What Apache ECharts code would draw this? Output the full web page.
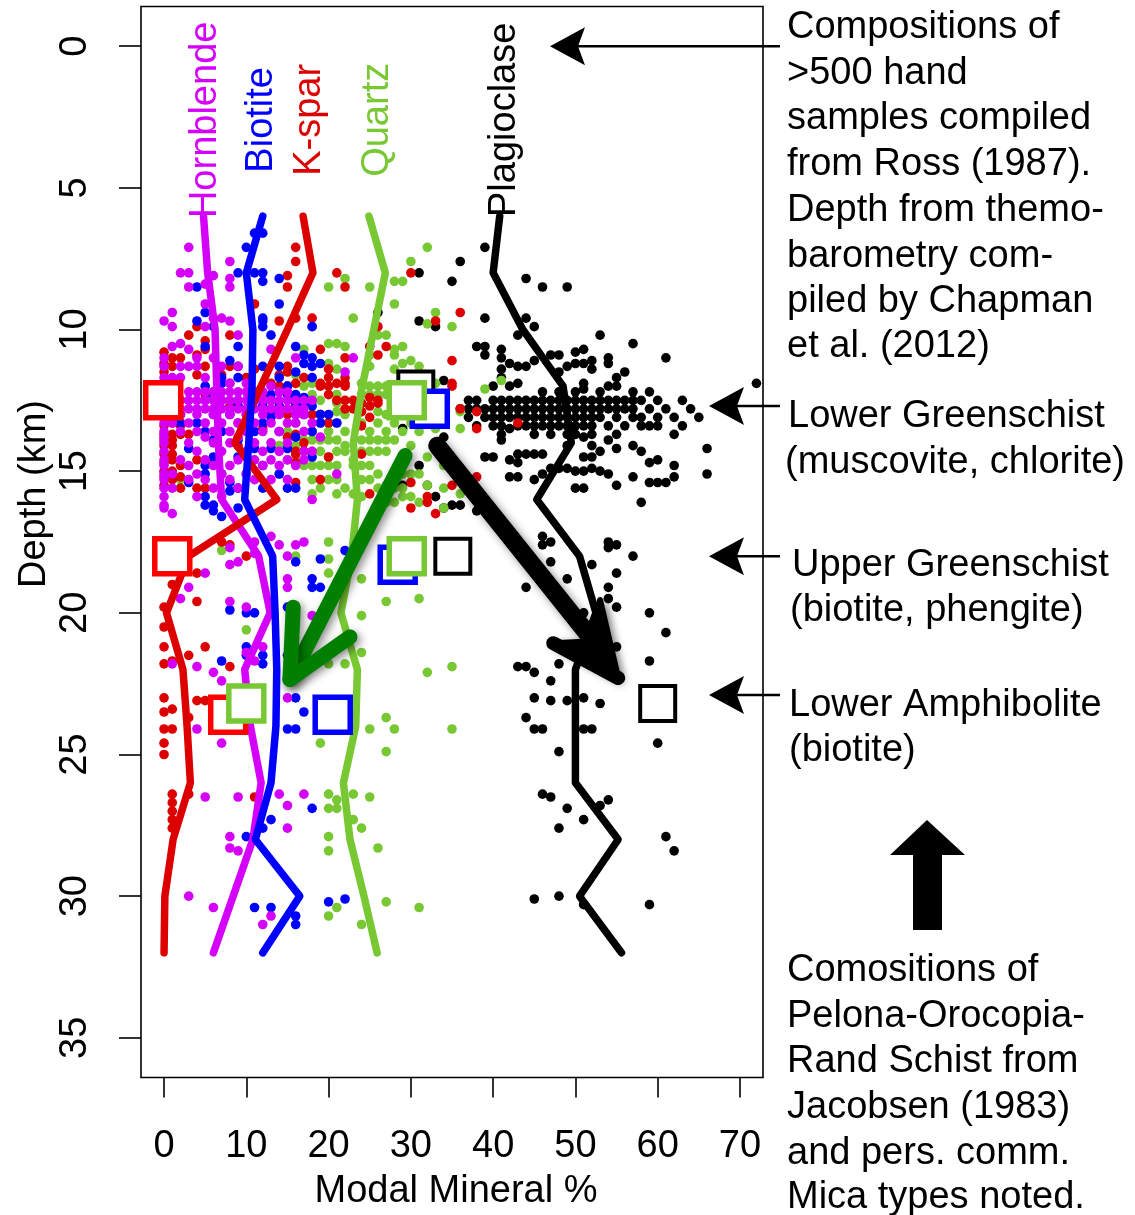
<!DOCTYPE html>
<html><head><meta charset="utf-8">
<script src="https://cdn.jsdelivr.net/npm/echarts@6/dist/echarts.min.js"></script>
<style>html,body{margin:0;padding:0;background:#fff}#c{width:1135px;height:1215px}</style>
</head><body><div id="c"></div>
<script>
// ---------------- DATA ----------------
const xTicks = [0, 10, 20, 30, 40, 50, 60, 70];
const yTicks = [0, 5, 10, 15, 20, 25, 30, 35];
const depthBins = [6, 8, 10, 12, 14, 16, 18, 20, 22, 24, 26, 28, 30, 32];
const hornblendeMean = [4.8, 5.3, 6.2, 6.4, 6.6, 7.0, 11.5, 12.9, 9.8, 10.5, 11.8, 10.8, 8.4, 6.0];
const biotiteMean    = [12.0, 10.0, 10.8, 10.7, 10.3, 9.8, 13.2, 13.5, 13.7, 13.6, 13.0, 11.1, 16.5, 12.0];
const ksparMean      = [16.9, 18.1, 15.0, 11.8, 8.6, 13.7, 3.0, 0.3, 2.3, 2.8, 3.2, 1.1, 0.1, 0.0];
const quartzMean     = [24.9, 26.9, 25.5, 24.1, 23.0, 23.5, 22.8, 21.5, 23.5, 23.3, 21.8, 22.6, 24.3, 25.9];
const plagMean       = [40.8, 40.0, 43.6, 48.5, 49.5, 45.3, 50.5, 52.5, 50.0, 50.0, 50.0, 55.2, 50.5, 55.6];

// schist compositions [modal %, depth km]
const schistKspar  = [[-0.1, 12.5], [1.0, 18.0], [7.8, 23.6]];
const schistQuartz = [[29.5, 12.5], [29.5, 18.0], [10.0, 23.2]];
const schistBiot   = [[32.3, 12.8], [28.4, 18.3], [20.5, 23.6]];
const schistPlag   = [[30.6, 12.1], [35.1, 18.0], [60.0, 23.2]];

// hand samples: rows of [depth, [modal % values]]
const plagRows = [
[7.1,[39]],[7.6,[36]],[8.0,[31]],[8.2,[44]],[8.3,[35]],[8.5,[46,49]],[9.4,[26]],[9.6,[39,44]],[9.7,[31]],
[9.9,[33,45]],[10.2,[43,53]],[10.5,[57]],[10.6,[38,39]],[10.7,[41,51]],[10.8,[50]],[10.9,[39,47,48]],
[11.0,[41,54,61]],[11.1,[45,52]],[11.2,[42,50,51,54]],[11.3,[43,44,49]],[11.4,[41,52]],[11.5,[48,56]],
[11.7,[41,55]],[11.8,[34]],[11.9,[43,51,72]],[12.0,[40,42,54,55]],[12.1,[51]],[12.2,[46,48,50,53,57,59]],
[12.5,[37,38,40,41,42,43,44,45,46,47,48,49,50,51,52,53,54,55,56,57,58,60,63]],
[12.8,[36,37,38,39,40,41,42,43,44,45,46,47,48,49,50,51,52,53,54,55,56,57,59,61,64]],
[13.1,[37,39,40,41,42,43,44,45,46,47,48,49,50,51,52,53,55,57,58,60,62,65]],
[13.4,[38,40,41,43,44,45,46,47,48,49,50,51,52,54,56,58,59,60,63]],
[13.5,[29,42]],[13.7,[41,45,47,49,50,52,55,62]],[13.8,[34,51]],[13.9,[41,54]],[14.1,[49,52,57]],
[14.2,[55,66]],[14.3,[53,58]],[14.4,[43,44,45,46]],[14.5,[39,40,51,52]],[14.6,[42,60]],[14.7,[43,59]],
[14.8,[31,62]],[14.9,[47,48,49,52]],[15.0,[50,51,53]],[15.1,[46,54,66]],[15.2,[42,43,57,62]],[15.3,[45]],
[15.4,[59,60,61]],[15.5,[29,32,55]],[15.6,[50,51]],[15.9,[33]],[16.1,[58]],[16.2,[35,36]],[16.3,[34]],
[16.4,[38]],[17.3,[46]],[17.5,[47,54]],[17.6,[46,55]],[17.7,[54]],[18.0,[57]],[18.2,[47]],[18.3,[52]],
[18.6,[55]],[18.8,[49]],[19.1,[44,54]],[19.5,[54]],[19.8,[55]],[20.0,[51,59]],[20.7,[61]],[21.2,[55]],
[21.7,[59]],[21.8,[48]],[21.9,[43,44]],[22.1,[45]],[22.4,[47]],[23.0,[45,51]],[23.1,[47,49]],[23.2,[53]],
[23.7,[44]],[24.1,[45,46,51,52]],[24.6,[60]],[24.9,[48]],[26.4,[46]],[26.5,[47]],[26.6,[54]],[26.8,[53]],
[26.9,[49]],[27.3,[51]],[27.6,[48]],[27.9,[61]],[28.4,[62]],[30.0,[48]],[30.1,[45]],[30.3,[51,59]]
];
const quartzRows = [
[7.1,[32]],[7.6,[30]],[8.2,[22]],[8.3,[28,29]],[8.5,[20,25]],[9.1,[28]],[9.4,[33]],[9.6,[23]],[9.8,[32]],
[9.9,[18,35]],[10.2,[26,27]],[10.5,[20,21]],[10.6,[22,29]],[10.7,[17,28]],[10.9,[25,28]],[11.1,[30]],
[11.2,[20,29]],[11.3,[25,31]],[11.4,[21,28]],[11.6,[16,30]],[11.8,[41]],[11.9,[18,24,33]],[12.0,[17,25,26,27]],
[12.1,[39]],[12.3,[18,21,24,25,26,27]],[12.5,[13,16,19,31]],[12.6,[21,24,34]],[12.9,[14,21,24,26,36]],
[13.0,[17,19,22,27,29]],[13.3,[16,19,20,21,24,26,28,30]],[13.5,[33,36]],[13.6,[15,18,20,22,25,27,29,31]],
[13.9,[17,18,19,20,21,24,25,26,27,28]],[14.1,[14,16,22,30]],[14.3,[17,18,19,21,22,24,25,26,27]],[14.5,[20,32]],
[14.6,[15,16,23,29]],[14.8,[17,18,19,20,21,23,24,25,34]],[15.1,[14,26,28,29,30,31]],[15.3,[2,18,20,21,24,25]],
[15.5,[27,32]],[15.6,[19,22,26,28,29,34]],[15.8,[18,21,23,36]],[15.9,[24,29,30]],[16.1,[26,27,28,31]],
[16.3,[34]],[17.5,[20]],[17.8,[7]],[18.0,[16]],[18.1,[20]],[18.6,[20]],[18.8,[24]],[19.5,[31]],[19.6,[27]],
[20.1,[24]],[20.6,[10]],[21.4,[24]],[21.8,[20,22]],[21.9,[35]],[22.1,[32]],[23.7,[27]],[24.1,[25,28,35]],
[24.6,[19]],[24.9,[27]],[26.4,[20,23]],[26.5,[25]],[26.6,[21]],[26.9,[20,21]],[27.3,[23]],[27.6,[24]],
[27.9,[20]],[28.3,[26]],[28.4,[20]],[30.2,[27]],[30.4,[21,31]],[30.7,[20]],[31.0,[24]]
];
const ksparRows = [
[7.1,[16]],[7.6,[16]],[8.0,[21,30]],[8.1,[15]],[8.5,[15,22]],[9.1,[11]],[9.4,[36]],[9.6,[16,18]],[9.7,[14,33]],
[9.9,[4,26]],[10.2,[3,8]],[10.4,[5]],[10.6,[25,27]],[10.7,[5,19]],[10.8,[0]],[10.9,[4,26]],[11.0,[1,2,22]],
[11.1,[35]],[11.2,[0]],[11.3,[1,5,8,15]],[11.4,[11,20]],[11.5,[0,15]],[11.6,[4,7,14]],[11.7,[10,17,20,22]],
[11.9,[8,13,16,19,21,22,35]],[12.0,[14,15,19,20,22,35]],[12.2,[6]],[12.3,[5,12,20]],[12.4,[0,1,25]],
[12.5,[0,1,2,21,22,23,26]],[12.6,[24,26]],[12.7,[8,16,25]],[12.8,[1,22,23,36]],[12.9,[24,38]],
[13.0,[0,10,15,18,19]],[13.1,[1,25]],[13.3,[1,9,20,43]],[13.4,[0,2,24]],[13.5,[12,38]],[13.7,[0,1,2,3,16]],
[13.8,[15]],[13.9,[0,1]],[14.0,[17]],[14.1,[0,1,9]],[14.3,[16,17]],[14.4,[0,1,16,24]],[14.5,[20]],
[14.6,[1,4]],[14.7,[0,6,16]],[14.8,[2]],[15.0,[0,1]],[15.2,[0,2,38]],[15.3,[1,19]],[15.4,[16,30]],
[15.5,[0,35]],[15.6,[2,4,5]],[15.8,[25]],[15.9,[32]],[16.1,[32]],[16.3,[30]],[16.5,[33]],[17.5,[7]],
[17.6,[8]],[18.0,[10]],[18.6,[4]],[19.0,[1]],[19.6,[4]],[19.8,[0]],[20.5,[0]],[21.2,[0,5]],[21.5,[3]],
[21.7,[1]],[21.8,[0]],[21.9,[8]],[23.0,[0]],[23.1,[4,5]],[23.4,[1]],[23.5,[0]],[23.7,[3]],[24.1,[0,1]],
[24.6,[0]],[25.0,[0]],[26.4,[1,3]],[26.5,[11]],[26.7,[1]],[27.0,[1]],[27.3,[1]],[27.6,[1]]
];
const biotiteRows = [
[6.6,[11,12]],[7.1,[10]],[8.0,[9,11,12]],[8.2,[14]],[8.3,[12]],[8.5,[4]],[9.1,[14]],[9.4,[5]],[9.6,[12]],
[9.7,[4,12]],[9.9,[6,12,18]],[10.2,[13]],[10.6,[5,9,16]],[10.9,[17]],[11.0,[18]],[11.1,[8]],[11.2,[17,19]],
[11.3,[9,12,14,18]],[11.5,[16]],[11.7,[7,9,14,18]],[11.9,[7]],[12.0,[5,15]],[12.3,[6,13,15,16]],[12.4,[16,17]],
[12.5,[5,7,9,11,13,16,17]],[12.6,[16]],[12.7,[9,12,14,17,18]],[13.0,[2,6,8,13,16,17,19,20]],[13.1,[13]],
[13.3,[2,4,10,12,19,21]],[13.6,[5,7,11,14,18]],[13.8,[16]],[13.9,[6,9]],[14.2,[3,11,13,15]],[14.5,[6,9,18]],
[14.8,[5,12]],[15.1,[5,7,10,14]],[15.4,[3,8]],[15.6,[9,12,15,16]],[15.7,[8]],[15.9,[5]],[16.2,[5,6]],
[16.3,[9]],[16.4,[6]],[16.6,[7]],[17.8,[22]],[18.1,[19]],[18.2,[16]],[18.8,[18]],[19.1,[18,19]],[19.8,[15]],
[19.9,[8]],[20.0,[10,11]],[21.2,[10]],[21.5,[10,12,15]],[21.7,[7]],[21.8,[12]],[23.0,[16]],[23.5,[17]],
[24.1,[15,16]],[26.9,[18]],[27.3,[13]],[27.6,[12]],[27.9,[10]],[30.1,[22]],[30.2,[20]],[30.4,[11,13]],
[30.7,[16]],[31.0,[16]]
];
const hornblendeRows = [
[7.1,[3]],[7.6,[8]],[8.0,[2,3]],[8.1,[6]],[8.2,[8]],[8.4,[5]],[8.5,[3,8]],[9.1,[5]],[9.4,[1]],[9.6,[6,7]],
[9.7,[0,8]],[9.9,[1,5]],[10.2,[9]],[10.5,[2]],[10.6,[1]],[10.7,[3,13]],[11.0,[0,4,6,16,23]],
[11.3,[0,2,3,4,7,9]],[11.5,[22]],[11.7,[0,1,2,5]],[11.9,[8,10]],[12.0,[13]],
[12.2,[0,1,3,4,5,6,7,8,9,10,11,12,14,15]],
[12.5,[0,1,2,3,4,5,6,7,8,9,10,11,12,13,14,15,16,17,18]],
[12.8,[0,1,2,3,4,5,6,7,8,9,10,11,12,13,14,15,16,17]],
[13.0,[0,2,4,6,8,10,12,14,16,17]],[13.3,[0,1,3,5,7,9,11,13,15,16,18]],[13.6,[0,2,4,6,8,10,12,14,17]],
[13.8,[0,5,9,19]],[14.0,[0,3,6,8,11,13,15]],[14.3,[0,4,7,10,12,14,17,18]],[14.6,[0,2,5,9,11,13,15,17]],
[14.8,[0,3,6,8,12,14,16]],[15.1,[0,1,4,7,10,21]],[15.3,[0,3,5,8,11,13,15]],[15.6,[0,1,6,9]],[15.9,[0,4,7]],
[16.0,[18]],[16.2,[0]],[16.3,[0]],[16.5,[1]],[17.3,[13]],[17.5,[11,17]],[17.6,[14,16]],[17.7,[8]],[17.9,[11]],
[18.0,[15]],[18.2,[9]],[18.3,[8]],[18.6,[5]],[18.8,[15]],[19.1,[3,15]],[19.5,[2]],[19.6,[8]],[19.8,[10]],
[20.1,[18]],[21.2,[12]],[21.4,[10]],[21.7,[11]],[21.8,[1]],[21.9,[4]],[22.1,[6]],[22.4,[7]],[23.0,[15]],
[24.1,[4]],[24.6,[7]],[26.4,[14,17]],[26.5,[5,9]],[26.8,[15]],[27.6,[15]],[27.9,[8]],[28.3,[8]],[28.4,[9]],
[30.0,[3]],[30.4,[6]],[30.7,[13]],[31.0,[12]]
];

// ---------------- STYLE ----------------
const C = { horn:'#D500F9', biot:'#0000FF', ksp:'#DD0000', qtz:'#77C833', plag:'#000000',
            kspBox:'#FF0000', arrowG:'#007F00' };
const FONT = '"Liberation Sans", Arial, Helvetica, sans-serif';

function flat(rows){ const out=[]; rows.forEach(([d,xs])=>xs.forEach(x=>out.push([x,d]))); return out; }
function meanLine(vals){ return vals.map((v,i)=>[v, depthBins[i]]); }

const chart = echarts.init(document.getElementById('c'), null, {renderer:'canvas'});

function pts(name, rows, color){
  return {type:'scatter', name, data:flat(rows), symbol:'circle', symbolSize:9.6, silent:true,
    itemStyle:{color, opacity:1}, animation:false};
}
function ln(name, vals, color){
  return {type:'line', name, data:meanLine(vals), showSymbol:false, silent:true, animation:false,
    lineStyle:{color, width:7.5, cap:'round', join:'round'}, z:3};
}
function box(name, data, color, bw){
  return {type:'scatter', name, data, symbol:'rect', symbolSize:35, silent:true, animation:false,
    itemStyle:{color:'#fff', borderColor:color, borderWidth:bw, opacity:1}, z:4};
}

chart.setOption({
  animation:false,
  backgroundColor:'#fff',
  grid:{left:141, top:6.5, width:622, height:1071, show:true, borderColor:'#000', borderWidth:1.6, backgroundColor:'transparent'},
  xAxis:{type:'value', min:-2.8, max:72.8, splitLine:{show:false}, position:'bottom',
    axisLine:{show:false, onZero:false},
    axisTick:{show:true, length:20, customValues:xTicks, lineStyle:{color:'#000', width:1.6}},
    axisLabel:{customValues:xTicks, fontSize:38, color:'#000', fontFamily:FONT, margin:50}},
  yAxis:{type:'value', inverse:true, min:-1.4, max:36.4, splitLine:{show:false}, position:'left',
    axisLine:{show:false, onZero:false},
    axisTick:{show:true, length:22, customValues:yTicks, lineStyle:{color:'#000', width:1.6}},
    axisLabel:{customValues:yTicks, fontSize:38, color:'#000', fontFamily:FONT, rotate:90, margin:46}},
  series:[
    pts('Plagioclase', plagRows, C.plag),
    pts('Quartz', quartzRows, C.qtz),
    pts('K-spar', ksparRows, C.ksp),
    pts('Biotite', biotiteRows, C.biot),
    pts('Hornblende', hornblendeRows, C.horn),
    ln('Quartz line', quartzMean, C.qtz),
    ln('Plag line', plagMean, C.plag),
    ln('Hornblende line', hornblendeMean, C.horn),
    ln('K-spar line', ksparMean, C.ksp),
    ln('Biotite line', biotiteMean, C.biot),
    box('Schist plag', schistPlag, C.plag, 4),
    box('Schist kspar', schistKspar, C.kspBox, 5.5),
    box('Schist biotite', schistBiot, C.biot, 5.5),
    box('Schist quartz', schistQuartz, C.qtz, 5.5)
  ]
});

// ---------------- ANNOTATIONS ----------------
const P = (x,d) => chart.convertToPixel({gridIndex:0}, [x,d]);
const G = [];
function txt(s, x, y, opts){
  opts = opts || {};
  G.push({type:'text', x, y, rotation:opts.rot||0, z:200, silent:true,
    style:{text:s, fill:opts.color||'#000', font:(opts.size||38)+'px '+FONT,
      align:opts.align||'left', textAlign:opts.align||'left', verticalAlign:'middle', textVerticalAlign:'middle'}});
}
// mineral labels (rotated)
[['Hornblende',5.0,C.horn],['Biotite',11.9,C.biot],['K-spar',17.7,C.ksp],['Quartz',25.9,C.qtz],['Plagioclase',41.4,C.plag]]
 .forEach(([s,x,c])=>{ const p=P(x,2.6); txt(s,p[0],p[1],{rot:Math.PI/2,color:c,align:'center'}); });

// axis titles
txt('Modal Mineral %', 456, 1192, {align:'center'});
txt('Depth (km)', 35, 494, {align:'center', rot:Math.PI/2});

// right-hand text
const rightText = [
 ['Compositions of',787,28],['>500 hand',787,74],['samples compiled',787,119],['from Ross (1987).',787,165],
 ['Depth from themo-',787,211],['barometry com-',787,257],['piled by Chapman',787,302],['et al. (2012)',787,347],
 ['Lower Greenschist',788,417],['(muscovite, chlorite)',785,463],
 ['Upper Greenschist',792,566],['(biotite, phengite)',790,611],
 ['Lower Amphibolite',789,706],['(biotite)',789,751],
 ['Comositions of',787,971],['Pelona-Orocopia-',787,1017],['Rand Schist from',787,1062],
 ['Jacobsen (1983)',787,1108],['and pers. comm.',787,1154],['Mica types noted.',787,1198]
];
rightText.forEach(([s,x,y])=>txt(s,x,y));

// thin pointer arrows
function pointer(tipX, d, endX){
  const y = P(0,d)[1];
  G.push({type:'line', z:150, silent:true, shape:{x1:tipX+28, y1:y, x2:endX, y2:y}, style:{stroke:'#000', lineWidth:2.5}});
  G.push({type:'polygon', z:150, silent:true, shape:{points:[[tipX,y],[tipX+35,y-19],[tipX+28,y],[tipX+35,y+19]]}, style:{fill:'#000'}});
}
pointer(550, 0, 780);
pointer(709, 12.7, 780);
pointer(709, 18.0, 780);
pointer(709, 22.9, 780);

// big up arrow
G.push({type:'polygon', z:150, silent:true,
  shape:{points:[[927,820],[965,855],[942,855],[942,930],[913,930],[913,855],[890,855]]}, style:{fill:'#000'}});

// green trend arrow
(function(){
  const t=P(29.3,14.45), h=P(15.3,22.35), b1=P(15.7,19.8), b2=P(22.6,20.85);
  const st={stroke:C.arrowG, lineWidth:15, lineCap:'round', lineJoin:'round', fill:null,
    shadowBlur:8, shadowColor:'rgba(0,0,0,0.45)', shadowOffsetX:3, shadowOffsetY:3};
  G.push({type:'polyline', z:160, silent:true, shape:{points:[t,h]}, style:st});
  G.push({type:'polyline', z:161, silent:true, shape:{points:[b1,h,b2]}, style:st});
})();
// black trend arrow
(function(){
  const t=P(33.2,14.1), h=P(55.2,22.3), b1=P(53.0,19.55), b2=P(47.3,21.07), inner=P(52.2,21.0);
  const sh={shadowBlur:8, shadowColor:'rgba(0,0,0,0.45)', shadowOffsetX:3, shadowOffsetY:3};
  G.push({type:'polyline', z:160, silent:true, shape:{points:[t,inner]},
    style:Object.assign({stroke:'#000', lineWidth:18, lineCap:'round', fill:null}, sh)});
  G.push({type:'polygon', z:161, silent:true, shape:{points:[b1,h,b2,inner]},
    style:Object.assign({fill:'#000', stroke:'#000', lineWidth:6, lineJoin:'round'}, sh)});
  G.push({type:'polyline', z:162, silent:true, shape:{points:[b2,h]},
    style:{stroke:'#000', lineWidth:14, lineCap:'round', fill:null}});
})();

chart.setOption({graphic:G});
</script></body></html>
